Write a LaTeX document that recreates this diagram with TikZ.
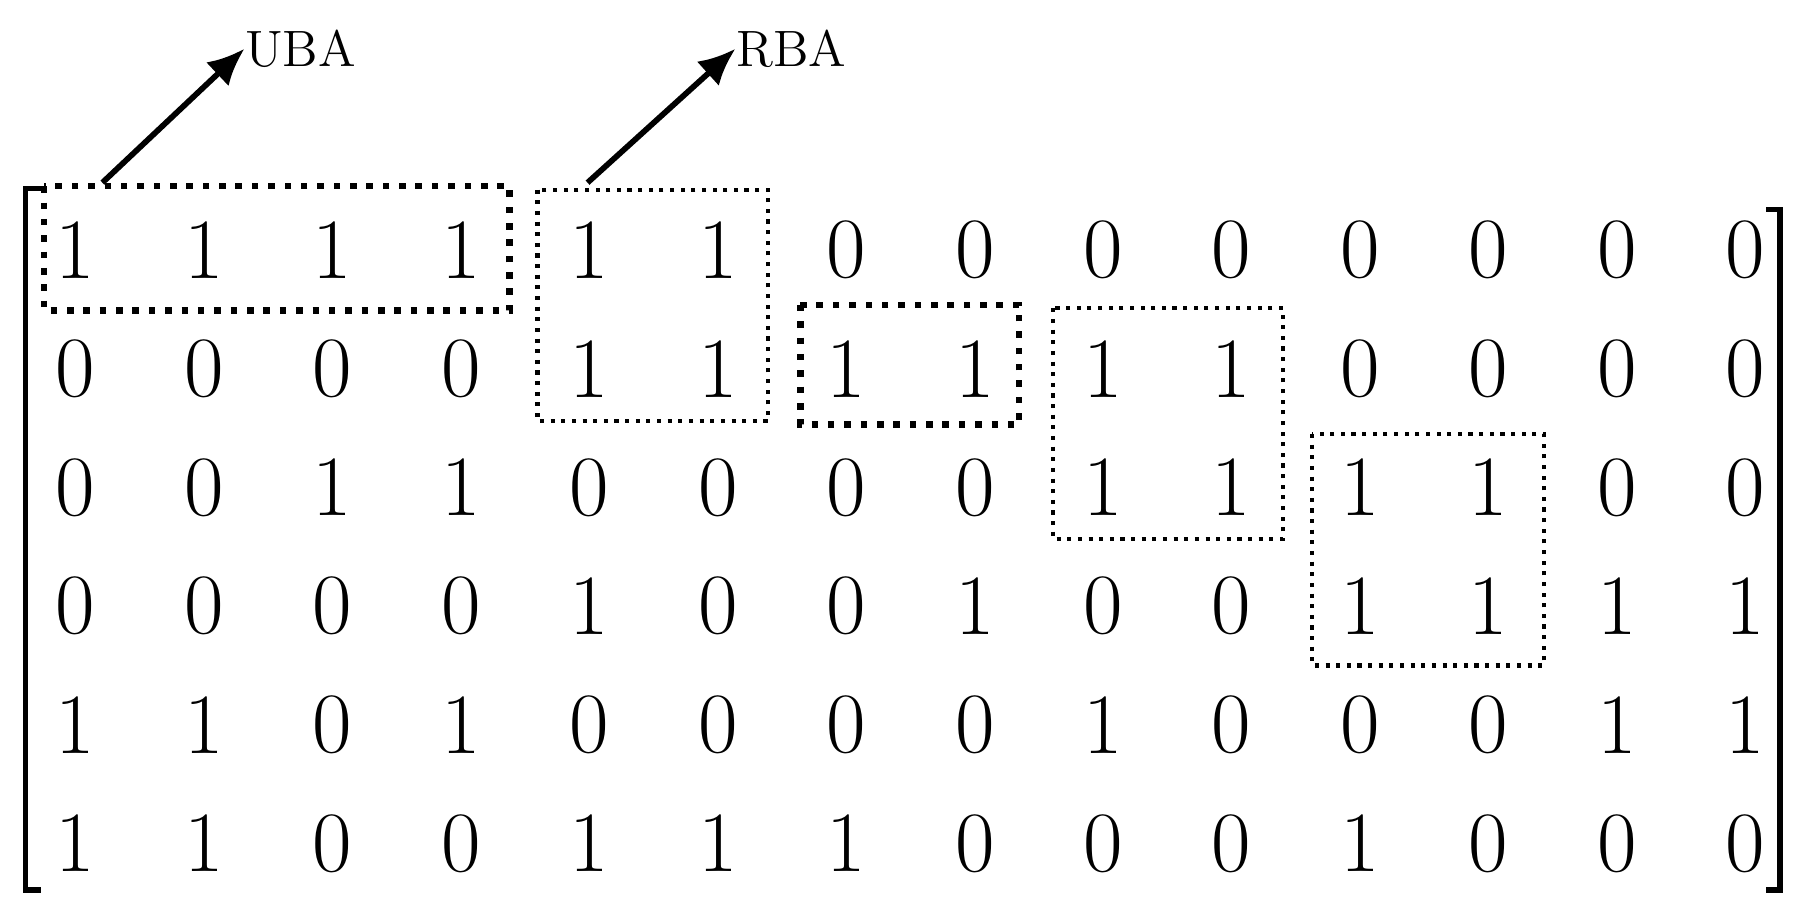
\documentclass[tikz,border=0pt]{standalone}
\usetikzlibrary{arrows.meta}
\begin{document}
\begin{tikzpicture}[x=0.01cm,y=-0.01cm,
  num/.style={font=\fontsize{21}{21}\selectfont, inner sep=0pt},
  lbl/.style={font=\fontsize{12.5}{12.5}\selectfont, inner sep=0pt, anchor=west},
  thickbox/.style={line width=1.6pt, dash pattern=on 1.6pt off 2.4pt},
  thinbox/.style={line width=1pt, dash pattern=on 1pt off 1.6pt},
  arr/.style={line width=1.4pt, -{Latex[length=9pt,width=8pt]}},
  brk/.style={line width=1.4pt}]
\useasboundingbox (0,0) rectangle (1560,794);
% matrix entries
\def\rows{{1,1,1,1,1,1,0,0,0,0,0,0,0,0},{0,0,0,0,1,1,1,1,1,1,0,0,0,0},{0,0,1,1,0,0,0,0,1,1,1,1,0,0},{0,0,0,0,1,0,0,1,0,0,1,1,1,1},{1,1,0,1,0,0,0,0,1,0,0,0,1,1},{1,1,0,0,1,1,1,0,0,0,1,0,0,0}}
\foreach \r [count=\i from 0] in {{1,1,1,1,1,1,0,0,0,0,0,0,0,0},{0,0,0,0,1,1,1,1,1,1,0,0,0,0},{0,0,1,1,0,0,0,0,1,1,1,1,0,0},{0,0,0,0,1,0,0,1,0,0,1,1,1,1},{1,1,0,1,0,0,0,0,1,0,0,0,1,1},{1,1,0,0,1,1,1,0,0,0,1,0,0,0}}{
  \foreach \v [count=\j from 0] in \r {
    \node[num] (m\i-\j) at (65+110.4*\j, 215+102*\i) {\v};
  }
}
% brackets
\draw[brk] (35,162) -- (22,162) -- (22,765) -- (35,765);
\draw[brk] (1518,180) -- (1530,180) -- (1530,765) -- (1518,765);
% boxes
\draw[thickbox] (38,160) rectangle (438,267);
\draw[thinbox] (462,163) rectangle (660,362);
\draw[thickbox] (688,262) rectangle (876,365);
\draw[thinbox] (905,265) rectangle (1103,463);
\draw[thinbox] (1128,373) rectangle (1327,572);
% labels and arrows
\node[lbl] (uba) at (210,42) {UBA};
\node[lbl] (rba) at (632,42) {RBA};
\coordinate (ubaS) at (88,157);
\coordinate (rbaS) at (505,157);
\draw[arr] (ubaS) -- (uba.west);
\draw[arr] (rbaS) -- (rba.west);
\end{tikzpicture}
\end{document}
